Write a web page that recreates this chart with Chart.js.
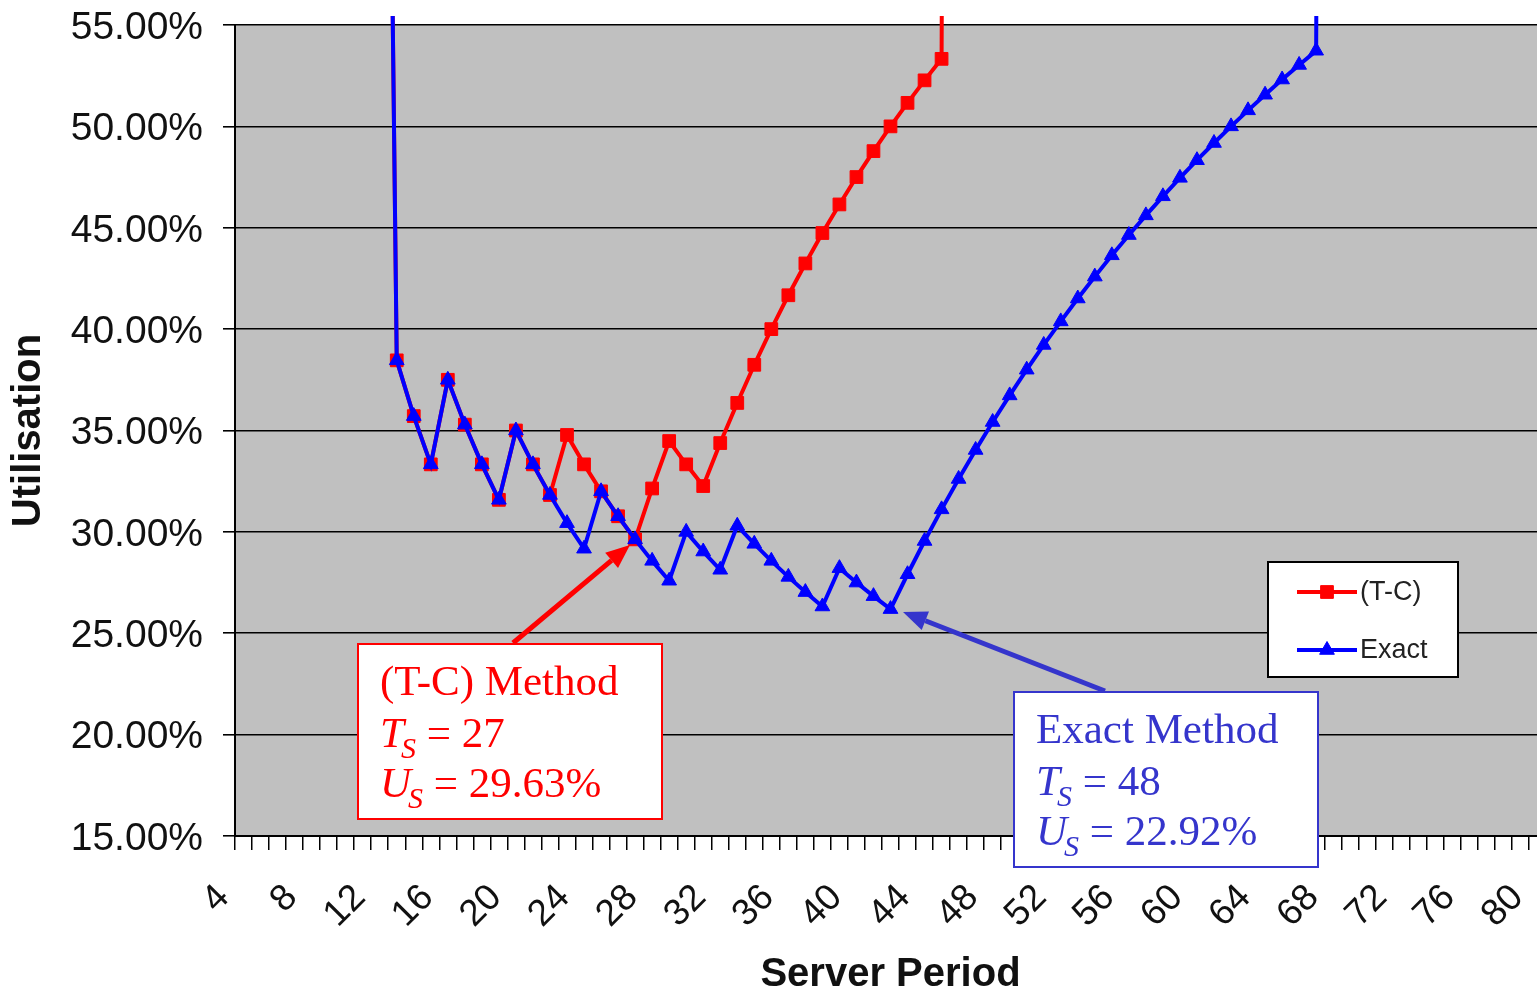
<!DOCTYPE html>
<html>
<head>
<meta charset="utf-8">
<title>Utilisation vs Server Period</title>
<script src="https://cdn.jsdelivr.net/npm/chart.js@4.4.1/dist/chart.umd.min.js"></script>
<style>
  html, body { margin: 0; padding: 0; background: #fff; overflow: hidden; }
  #wrap { width: 1570px; height: 1000px; }
</style>
</head>
<body>
<div id="wrap"><canvas id="myChart" width="1570" height="1000"></canvas></div>
<script>
// server periods (category axis)
const periods = [4, 5, 6, 7, 8, 9, 10, 11, 12, 13, 14, 15, 16, 17, 18, 19, 20,
  21, 22, 23, 24, 25, 26, 27, 28, 29, 30, 31, 32, 33, 34, 35, 36, 37, 38, 39, 40,
  41, 42, 43, 44, 45, 46, 47, 48, 49, 50, 51, 52, 53, 54, 55, 56, 57, 58, 59, 60,
  61, 62, 63, 64, 65, 66, 67, 68, 69, 70, 71, 72, 73, 74, 75, 76, 77, 78, 79, 80];

// utilisation in %, (T-C) method
const tcValues = [null, null, null, null, null, null, null, null,
  110, 38.46, 35.71, 33.33, 37.5, 35.29, 33.33, 31.58, 35.0, 33.33, 31.82,
  34.78, 33.33, 32.0, 30.77, 29.63, 32.14, 34.48, 33.33, 32.26, 34.38, 36.36,
  38.24, 40.0, 41.67, 43.24, 44.74, 46.15, 47.5, 48.78, 50.0, 51.16, 52.27,
  53.33, 250,
  null, null, null, null, null, null, null, null, null, null, null, null,
  null, null, null, null, null, null, null, null, null, null, null, null,
  null, null, null, null, null, null, null, null, null, null];

// utilisation in %, exact method
const exactValues = [null, null, null, null, null, null, null, null,
  110, 38.46, 35.71, 33.33, 37.5, 35.29, 33.33, 31.58, 35.0, 33.33, 31.82,
  30.43, 29.17, 32.0, 30.77, 29.63, 28.57, 27.59, 30.0, 29.03, 28.13, 30.3,
  29.41, 28.57, 27.78, 27.03, 26.32, 28.21, 27.5, 26.83, 26.19, 27.91, 29.55,
  31.11, 32.61, 34.04, 35.42, 36.73, 38.0, 39.22, 40.38, 41.51, 42.59, 43.64,
  44.64, 45.61, 46.55, 47.46, 48.33, 49.18, 50.0, 50.79, 51.56, 52.31, 53.03,
  53.73, 250,
  null, null, null, null, null, null, null, null, null, null, null, null];

const yMin = 15, yMax = 55, yStep = 5;

Chart.defaults.font.family = '"Liberation Sans", Arial, sans-serif';
Chart.defaults.color = '#111';

// grey plot area like the spreadsheet chart
const plotBackground = {
  id: 'plotBackground',
  beforeDraw(chart) {
    const { ctx, chartArea } = chart;
    ctx.save();
    ctx.fillStyle = '#c0c0c0';
    ctx.fillRect(chartArea.left, chartArea.top, chartArea.right - chartArea.left, chartArea.bottom - chartArea.top);
    ctx.restore();
  }
};

// legend box inside the plot
const boxLegend = {
  id: 'boxLegend',
  afterDatasetsDraw(chart) {
    const ctx = chart.ctx;
    ctx.save();
    ctx.fillStyle = '#fff';
    ctx.strokeStyle = '#000';
    ctx.lineWidth = 2;
    ctx.fillRect(1268, 562, 190, 115);
    ctx.strokeRect(1268, 562, 190, 115);
    const rows = [592, 650];
    chart.data.datasets.forEach((ds, i) => {
      const y = rows[i];
      ctx.strokeStyle = ds.borderColor;
      ctx.fillStyle = ds.backgroundColor;
      ctx.lineWidth = 4;
      ctx.beginPath();
      ctx.moveTo(1297, y);
      ctx.lineTo(1357, y);
      ctx.stroke();
      ctx.lineWidth = 1;
      Chart.helpers.drawPoint(ctx, {
        pointStyle: ds.pointStyle, radius: ds.pointRadius, rotation: 0, borderWidth: 1
      }, 1327, y);
      ctx.fillStyle = '#222';
      ctx.font = '27px "Liberation Sans", Arial, sans-serif';
      ctx.textAlign = 'left';
      ctx.textBaseline = 'middle';
      ctx.fillText(ds.label, 1360, y + 1);
    });
    ctx.restore();
  }
};

function drawArrow(ctx, x1, y1, x2, y2, color) {
  const ang = Math.atan2(y2 - y1, x2 - x1);
  const len = 24, half = 10;
  const bx = x2 - len * Math.cos(ang), by = y2 - len * Math.sin(ang);
  ctx.strokeStyle = color;
  ctx.fillStyle = color;
  ctx.lineWidth = 5;
  ctx.beginPath();
  ctx.moveTo(x1, y1);
  ctx.lineTo(bx, by);
  ctx.stroke();
  ctx.beginPath();
  ctx.moveTo(x2, y2);
  ctx.lineTo(bx + half * Math.sin(ang), by - half * Math.cos(ang));
  ctx.lineTo(bx - half * Math.sin(ang), by + half * Math.cos(ang));
  ctx.closePath();
  ctx.fill();
}

function drawCallout(ctx, x, y, color, title, ts, us) {
  ctx.fillStyle = '#fff';
  ctx.fillRect(x, y, 304, 175);
  ctx.strokeStyle = color;
  ctx.lineWidth = 2;
  ctx.strokeRect(x, y, 304, 175);
  ctx.fillStyle = color;
  ctx.textAlign = 'left';
  ctx.textBaseline = 'alphabetic';
  const big = '43px "Liberation Serif", "Times New Roman", serif';
  const bigI = 'italic 43px "Liberation Serif", "Times New Roman", serif';
  const subI = 'italic 30px "Liberation Serif", "Times New Roman", serif';
  const tx = x + 22;
  ctx.font = big;
  ctx.fillText(title, tx, y + 51);
  [['T', ts, 103], ['U', us, 153]].forEach(([sym, val, dy]) => {
    let cx = tx;
    ctx.font = bigI;
    ctx.fillText(sym, cx, y + dy);
    cx += ctx.measureText(sym).width - 3;
    ctx.font = subI;
    ctx.fillText('S', cx, y + dy + 11);
    cx += ctx.measureText('S').width;
    ctx.font = big;
    ctx.fillText(' = ' + val, cx, y + dy);
  });
}

const callouts = {
  id: 'callouts',
  afterDraw(chart) {
    const ctx = chart.ctx;
    ctx.save();
    drawArrow(ctx, 513, 643, 630, 545, '#ff0000');
    drawArrow(ctx, 1105, 691, 903, 612, '#3535cc');
    drawCallout(ctx, 358, 644, '#ff0000', '(T-C) Method', '27', '29.63%');
    drawCallout(ctx, 1014, 692, '#3535cc', 'Exact Method', '48', '22.92%');
    ctx.restore();
  }
};

new Chart(document.getElementById('myChart'), {
  type: 'line',
  data: {
    labels: periods,
    datasets: [{
      label: '(T-C)',
      data: tcValues,
      borderColor: '#ff0000',
      backgroundColor: '#ff0000',
      borderWidth: 4,
      pointStyle: 'rect',
      pointRadius: 9,
      pointBorderWidth: 1,
      tension: 0,
      order: 2,
      clip: { left: 10, top: 9, right: 10, bottom: 0 }
    }, {
      label: 'Exact',
      data: exactValues,
      borderColor: '#0000ff',
      backgroundColor: '#0000ff',
      borderWidth: 4,
      pointStyle: 'triangle',
      pointRadius: 8.5,
      pointBorderWidth: 1,
      tension: 0,
      order: 1,
      clip: { left: 10, top: 9, right: 10, bottom: 0 }
    }]
  },
  options: {
    responsive: false,
    animation: false,
    devicePixelRatio: 1,
    layout: { padding: { left: 0, top: 25, right: 24, bottom: 0 } },
    plugins: {
      legend: { display: false },
      tooltip: { enabled: false }
    },
    scales: {
      x: {
        type: 'category',
        offset: true,
        grid: {
          offset: true,
          drawOnChartArea: false,
          drawTicks: true,
          tickLength: 14,
          color: '#000',
          lineWidth: 1.5
        },
        border: { display: true, color: '#000', width: 2 },
        ticks: {
          autoSkip: false,
          minRotation: 45,
          maxRotation: 45,
          padding: 26,
          labelOffset: -20,
          color: '#111',
          font: { size: 37 },
          callback: function (value, index) {
            const p = periods[index];
            return p % 4 === 0 ? String(p) : '';
          }
        },
        title: {
          display: true,
          text: 'Server Period',
          color: '#111',
          font: { size: 40, weight: 'bold' },
          padding: { top: 0, bottom: 1 }
        },
        afterFit(scale) {
          scale.height = 164;
          scale.paddingLeft = 0;
          scale.paddingRight = 0;
        }
      },
      y: {
        min: yMin,
        max: yMax,
        ticks: {
          stepSize: yStep,
          padding: 20,
          labelOffset: 3,
          color: '#111',
          font: { size: 39 },
          callback: v => v.toFixed(2) + '%'
        },
        grid: {
          color: '#000',
          lineWidth: 1.6,
          drawTicks: true,
          tickLength: 12
        },
        border: { display: true, color: '#000', width: 2 },
        title: {
          display: true,
          text: 'Utilisation',
          color: '#111',
          font: { size: 40, weight: 'bold' },
          padding: { top: 5, bottom: 0 }
        },
        afterFit(scale) {
          scale.width = 235;
          scale.paddingTop = 0;
          scale.paddingBottom = 0;
        }
      }
    }
  },
  plugins: [plotBackground, boxLegend, callouts]
});
</script>
</body>
</html>
